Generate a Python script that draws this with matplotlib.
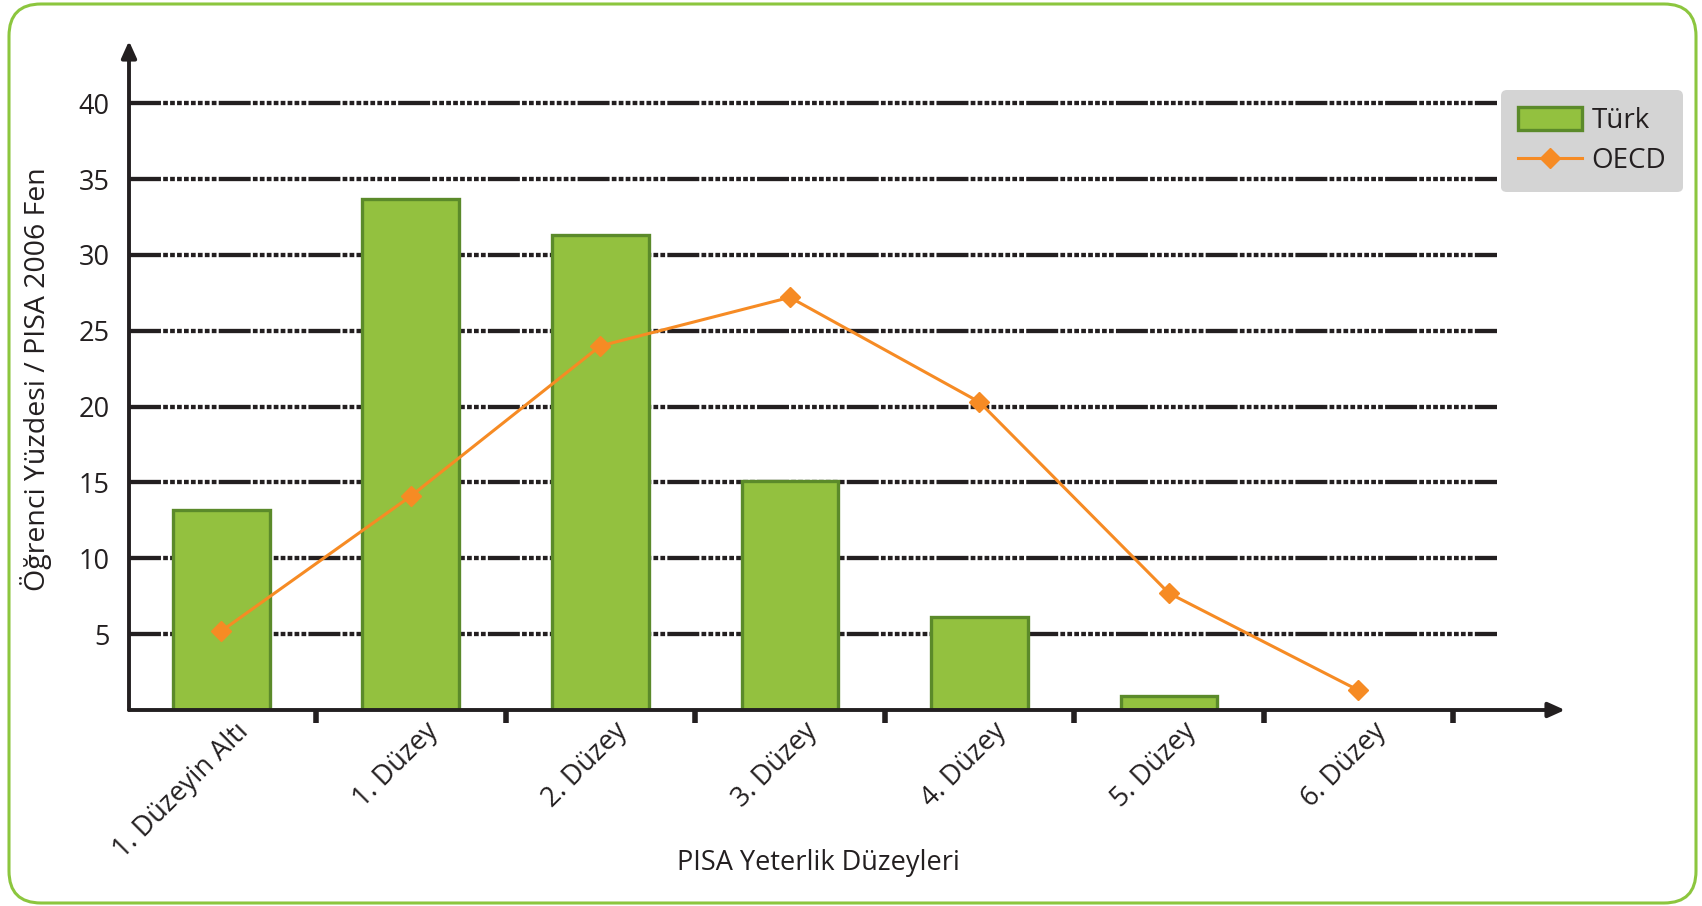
import matplotlib.pyplot as plt
import numpy as np
from matplotlib.patches import FancyBboxPatch, Patch
from matplotlib.lines import Line2D

plt.rcParams['font.family'] = ['Open Sans', 'DejaVu Sans']
plt.rcParams['lines.scale_dashes'] = False

categories = ['1. Düzeyin Altı', '1. Düzey', '2. Düzey', '3. Düzey',
              '4. Düzey', '5. Düzey', '6. Düzey']
turk = [13.2, 33.7, 31.3, 15.1, 6.1, 0.9, 0.0]
oecd = [5.2, 14.1, 24.0, 27.2, 20.3, 7.7, 1.3]
yticks = [5, 10, 15, 20, 25, 30, 35, 40]

bar_fill = '#93c13f'
bar_edge = '#5b8a2a'
orange = '#f68b24'
txt = '#231f20'

fig = plt.figure(figsize=(17.02, 9.06), dpi=100)
ax = fig.add_axes([129 / 1702, 1 - 710 / 906, (1565 - 129) / 1702, (710 - 41) / 906])

x = np.arange(len(categories))
xmin, xmax = -0.487, 7.09
ax.set_xlim(xmin, xmax)
ax.set_ylim(0, 44.1)

# dashed grid lines: long dash then short dashes
dash = [23, 1.6] + [3.4, 1.6] * 8
for y in yticks:
    ax.add_line(Line2D([xmin, 6.73], [y, y], color='#231f20', lw=3.1,
                       dashes=dash, dash_capstyle='butt', zorder=1))

ax.bar(x[:6], turk[:6], width=0.51, color=bar_fill, edgecolor=bar_edge,
       linewidth=2.4, zorder=2)
ax.plot(x, oecd, color=orange, lw=2.2, marker='D', markersize=10.5,
        markeredgecolor=orange, zorder=3)

for s in ax.spines.values():
    s.set_visible(False)

# axes with arrows
for end in [(1, 0), (0, 1)]:
    ax.annotate('', xy=end, xytext=(0, 0), xycoords='axes fraction',
                arrowprops=dict(arrowstyle='-|>,head_length=1.0,head_width=0.45',
                                color='#231f20', lw=2.8, shrinkA=0, shrinkB=0), zorder=4)

ax.set_yticks(yticks)
ax.set_yticklabels([str(v) for v in yticks], fontsize=19.5, color=txt)
ax.tick_params(axis='y', length=0, pad=14)

ax.set_xticks(x)
ax.set_xticklabels([])
ax.set_xticks(x[:7] + 0.5, minor=True)
ax.tick_params(axis='x', which='major', length=0)
ax.tick_params(axis='x', which='minor', length=9, width=4, color='#231f20', direction='out')

for xi, lab in zip(x, categories):
    ax.text(xi + 0.07, -0.5, lab, rotation=45, ha='right', va='top',
            rotation_mode='anchor', fontsize=19.5, color=txt)

fig.text(36 / 1702, 1 - 379 / 906, 'Öğrenci Yüzdesi / PISA 2006 Fen', rotation=90,
         ha='center', va='center', fontsize=20.5, color=txt)
fig.text(818 / 1702, 1 - 863 / 906, 'PISA Yeterlik Düzeyleri', ha='center', va='center',
         fontsize=19.5, color=txt)

handles = [Patch(facecolor=bar_fill, edgecolor=bar_edge, linewidth=2.4),
           Line2D([], [], color=orange, lw=2.2, marker='D', markersize=10.5)]
leg = fig.legend(handles, ['Türk', 'OECD'], loc='upper left',
                 bbox_to_anchor=(1501 / 1702, 1 - 90 / 906), borderaxespad=0,
                 fontsize=20, frameon=True, facecolor='#d4d4d4', edgecolor='none',
                 framealpha=1, fancybox=True, handlelength=2.3, handletextpad=0.35,
                 labelspacing=0.45, borderpad=0.6, handleheight=0.9)
for t in leg.get_texts():
    t.set_color(txt)

border = FancyBboxPatch((9, 3), 1687, 899, boxstyle='round,pad=0,rounding_size=32',
                        transform=None, facecolor='none', edgecolor='#8cc63e', lw=2.2)
fig.patches.append(border)

fig.savefig('out.png', dpi=100)
